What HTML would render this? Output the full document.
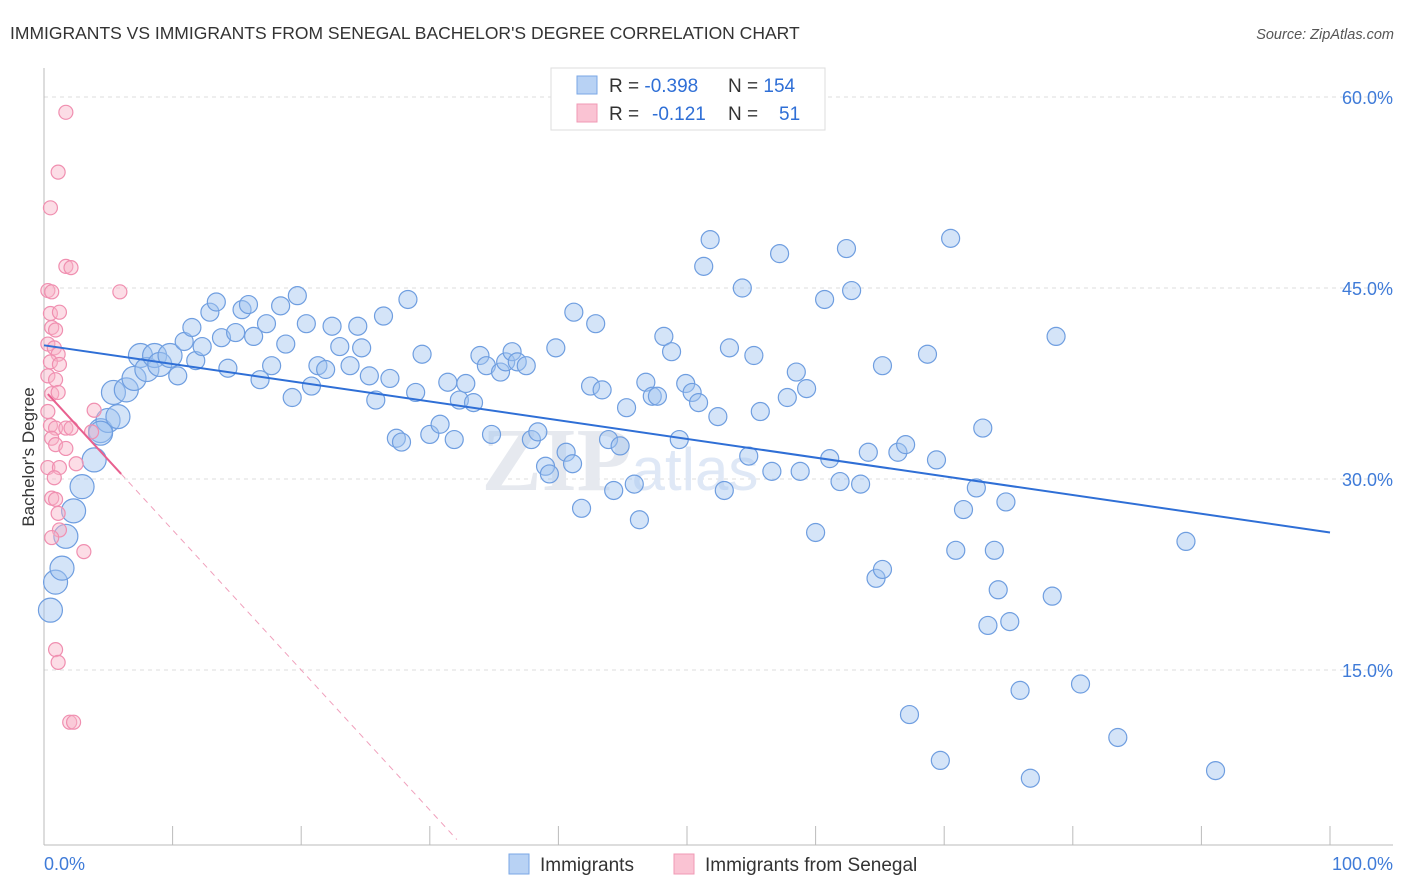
<!DOCTYPE html>
<html><head><meta charset="utf-8"><style>
body{margin:0;background:#fff;font-family:"Liberation Sans",sans-serif}
svg{display:block}
</style></head><body>
<svg id="chart" width="1406" height="892">
<text x="10" y="39" font-size="17.5" fill="#333">IMMIGRANTS VS IMMIGRANTS FROM SENEGAL BACHELOR'S DEGREE CORRELATION CHART</text>
<text x="1394" y="39" font-size="14.5" fill="#555" font-style="italic" text-anchor="end">Source: ZipAtlas.com</text>
<g id="grid"></g>
<text x="620" y="490" font-size="90" fill="#e6e9ef" font-family="Liberation Serif" font-weight="bold" text-anchor="middle">ZIP<tspan font-family="Liberation Sans" font-weight="normal" font-size="60" fill="#dfe8f6">atlas</tspan></text>
<g id="axes"></g>
<g id="pts"></g>
<g id="trends"></g>
<text transform="translate(34,457) rotate(-90)" font-size="17" fill="#333" text-anchor="middle">Bachelor's Degree</text>
<g>
<rect x="551" y="68" width="274" height="62" fill="#fff" stroke="#ddd"/>
<rect x="577" y="76" width="20" height="18" fill="#b8d2f4" stroke="#7aa7e6"/>
<rect x="577" y="104" width="20" height="18" fill="#fac3d3" stroke="#f09ab4"/>
<text x="609" y="92" font-size="19" fill="#333">R = <tspan fill="#2f6fd6">-0.398</tspan><tspan x="728">N = </tspan><tspan fill="#2f6fd6">154</tspan></text>
<text x="609" y="120" font-size="19" fill="#333">R = <tspan x="652" fill="#2f6fd6">-0.121</tspan><tspan x="728">N = </tspan><tspan x="779" fill="#2f6fd6">51</tspan></text>
</g>
<g>
<rect x="509" y="854" width="20" height="20" fill="#b8d2f4" stroke="#7aa7e6"/>
<text x="540" y="871" font-size="19" fill="#333">Immigrants</text>
<rect x="674" y="854" width="20" height="20" fill="#fac3d3" stroke="#f09ab4"/>
<text x="705" y="871" font-size="19" fill="#333">Immigrants from Senegal</text>
</g>
</svg>
<script>
const yTicks=[15,30,45,60];
const yTickLabels=["15.0%","30.0%","45.0%","60.0%"];
const xTicks=[0,10,20,30,40,50,60,70,80,90,100];
const blueX=[0.5,0.9,1.4,1.7,2.3,2.96,3.9,4.4,4.98,5.75,5.4,6.4,7.0,7.5,8.0,8.6,9.0,9.8,10.4,10.9,11.5,11.8,12.3,12.9,13.4,13.8,14.3,14.9,15.4,15.9,16.3,16.8,17.3,17.7,18.4,18.8,19.3,19.7,20.4,20.8,21.3,21.9,22.4,23.0,23.8,24.4,24.7,25.3,25.8,26.4,26.9,27.4,27.8,28.3,28.9,29.4,30.0,30.8,31.4,31.9,32.3,32.8,33.4,33.9,34.4,34.8,35.5,35.9,36.4,36.8,37.5,37.9,38.4,39.0,39.3,39.8,40.6,41.1,41.2,41.8,42.5,42.9,43.4,43.9,44.3,44.8,45.3,45.9,46.3,46.8,47.3,47.7,48.2,48.8,49.4,49.9,50.4,50.9,51.3,51.8,52.4,52.9,53.3,54.3,54.8,55.2,55.7,56.6,57.2,57.8,58.5,58.8,59.3,60.0,60.7,61.1,61.9,62.4,62.8,63.5,64.1,64.7,65.2,65.2,66.4,67.0,67.3,68.7,69.4,69.7,70.5,70.9,71.5,72.5,73.0,73.4,73.9,74.2,74.8,75.1,75.9,76.7,78.4,78.7,80.6,83.5,88.8,91.1,4.4];
const blueY=[19.7,21.9,23.0,25.5,27.5,29.4,31.5,33.8,34.6,34.9,36.8,37.0,37.9,39.7,38.6,39.7,39.0,39.7,38.1,40.8,41.9,39.3,40.4,43.1,43.9,41.1,38.7,41.5,43.3,43.7,41.2,37.8,42.2,38.9,43.6,40.6,36.4,44.4,42.2,37.3,38.9,38.6,42.0,40.4,38.9,42.0,40.3,38.1,36.2,42.8,37.9,33.2,32.9,44.1,36.8,39.8,33.5,34.3,37.6,33.1,36.2,37.5,36.0,39.7,38.9,33.5,38.4,39.2,40.0,39.2,38.9,33.1,33.7,31.0,30.4,40.3,32.1,31.2,43.1,27.7,37.3,42.2,37.0,33.1,29.1,32.6,35.6,29.6,26.8,37.6,36.5,36.5,41.2,40.0,33.1,37.5,36.8,36.0,46.7,48.8,34.9,29.1,40.3,45.0,31.8,39.7,35.3,30.6,47.7,36.4,38.4,30.6,37.1,25.8,44.1,31.6,29.8,48.1,44.8,29.6,32.1,22.2,22.9,38.9,32.1,32.7,11.5,39.8,31.5,7.9,48.9,24.4,27.6,29.3,34.0,18.5,24.4,21.3,28.2,18.8,13.4,6.5,20.8,41.2,13.9,9.7,25.1,7.1,33.6];
const pinkX=[1.7,1.1,0.5,1.7,2.1,0.3,0.6,5.9,0.5,1.2,0.6,0.9,0.3,0.8,1.1,0.5,1.2,0.3,0.9,0.6,1.1,0.3,3.9,0.5,0.9,1.7,2.1,3.7,0.6,0.9,1.7,2.5,0.3,1.2,0.8,0.6,0.9,1.1,1.2,0.6,3.1,0.9,1.1,2.0,2.3];
const pinkY=[58.8,54.1,51.3,46.7,46.6,44.8,44.7,44.7,43.0,43.1,41.9,41.7,40.6,40.3,39.8,39.2,39.0,38.1,37.8,36.7,36.8,35.3,35.4,34.2,34.0,34.0,34.0,33.7,33.2,32.7,32.4,31.2,30.9,30.9,30.1,28.5,28.4,27.3,26.0,25.4,24.3,16.6,15.6,10.9,10.9];
const blueTrend=[40.5,25.8]; // y at x=0 and x=100
const pinkTrend=[37.0,-1.1]; // intercept, slope
const pinkSolidEnd=6.0, pinkDashEnd=32.1;

const NS="http://www.w3.org/2000/svg";
const X=v=>44+v*12.86, Y=v=>861-v*12.733;
function mk(t,a,p){const e=document.createElementNS(NS,t);for(const k in a)e.setAttribute(k,a[k]);(p).appendChild(e);return e;}
const grid=document.getElementById('grid'),axes=document.getElementById('axes'),pts=document.getElementById('pts'),tr=document.getElementById('trends');
yTicks.forEach((t,i)=>{
 const l=mk('line',{x1:44,x2:1393,y1:Y(t),y2:Y(t),stroke:'#ddd','stroke-dasharray':'4,4'},grid);
 
 
 const tx=mk('text',{x:1393,y:Y(t)+7,'font-size':18,fill:'#3f7bd8','text-anchor':'end'},axes);
 tx.textContent=yTickLabels[i];
 
 
});
let a=mk('line',{x1:44,x2:44,y1:68,y2:845,stroke:'#bbb'},axes);


a=mk('line',{x1:44,x2:1393,y1:845,y2:845,stroke:'#bbb'},axes);


xTicks.forEach(t=>{const l=mk('line',{x1:X(t),x2:X(t),y1:826,y2:845,stroke:'#bbb'},axes);
 
 });
let t0=mk('text',{x:44,y:870,'font-size':18,fill:'#3f7bd8'},axes);t0.textContent='0.0%';


t0=mk('text',{x:1393,y:870,'font-size':18,fill:'#3f7bd8','text-anchor':'end'},axes);t0.textContent='100.0%';


blueX.forEach((x,i)=>{const c=mk('circle',{cx:X(x),cy:Y(blueY[i]),r:x<10?12:9,fill:'rgba(160,195,240,0.45)',stroke:'#6f9ee0','stroke-width':1.2},pts);
 
 });
pinkX.forEach((x,i)=>{const c=mk('circle',{cx:X(x),cy:Y(pinkY[i]),r:7,fill:'rgba(248,180,200,0.45)',stroke:'#f08fb0','stroke-width':1.2},pts);
 
 });
let l=mk('line',{x1:X(0),y1:Y(blueTrend[0]),x2:X(100),y2:Y(blueTrend[1]),stroke:'#2f6fd6','stroke-width':2},tr);


const py=x=>pinkTrend[0]+pinkTrend[1]*x;
l=mk('line',{x1:X(0.3),y1:Y(py(0.3)),x2:X(pinkSolidEnd),y2:Y(py(pinkSolidEnd)),stroke:'#e8608f','stroke-width':2},tr);


l=mk('line',{x1:X(pinkSolidEnd),y1:Y(py(pinkSolidEnd)),x2:X(pinkDashEnd),y2:Y(py(pinkDashEnd)),stroke:'#f0a0bc','stroke-width':1,'stroke-dasharray':'6,5'},tr);


</script>
</body></html>
